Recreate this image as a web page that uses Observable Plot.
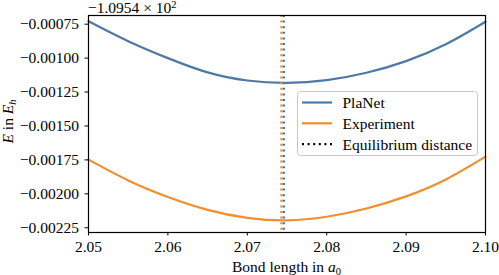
<!DOCTYPE html>
<html><head><meta charset="utf-8">
<script src="https://cdn.jsdelivr.net/npm/d3@7"></script>
<script src="https://cdn.jsdelivr.net/npm/@observablehq/plot@0.6"></script>
<style>
body{margin:0;background:#fff}
svg{display:block}
svg text{font-family:"Liberation Serif", serif !important;}
</style>
</head><body><div id="chart"></div>
<script>
// Data (energies are shown relative to the offset −1.0954 × 10² Eh)
const bondLength = [2.050, 2.055, 2.060, 2.065, 2.070, 2.075, 2.080, 2.085, 2.090, 2.095, 2.100];
const planetEnergy = [-0.000728, -0.000875, -0.001000, -0.001105, -0.001165, -0.001182, -0.001162, -0.001108, -0.001022, -0.000898, -0.000732];
const experimentEnergy = [-0.001748, -0.001901, -0.002023, -0.002118, -0.002177, -0.002196, -0.002169, -0.002108, -0.002019, -0.001894, -0.001726];
const seriesNames = ["PlaNet", "Experiment"];
const seriesColors = ["#4e79a7", "#f28e2b"];
const eqSeries = ["Experiment", "PlaNet"];
const eqDistance = [2.0743, 2.0746];
const xTicks = [2.05, 2.06, 2.07, 2.08, 2.09, 2.10];
const yTicks = [-0.00075, -0.00100, -0.00125, -0.00150, -0.00175, -0.00200, -0.00225];
const offsetMantissa = "\u22121.0954 \u00d7 10";
const offsetExponent = "2";
const legendLabels = ["PlaNet", "Experiment", "Equilibrium distance"];

const color = Object.fromEntries(seriesNames.map((s, i) => [s, seriesColors[i]]));
const curves = [];
bondLength.forEach((x, i) => {
  curves.push({series: "PlaNet", x, y: planetEnergy[i]});
  curves.push({series: "Experiment", x, y: experimentEnergy[i]});
});
const eqRows = eqSeries.map((s, i) => ({series: s, x: eqDistance[i]}));

const W = 499, H = 275, mL = 88, mR = 14, mT = 15, mB = 43;
const font = "Liberation Serif, serif";
const fs = 15.5;

const plot = Plot.plot({
  width: W, height: H,
  marginLeft: mL, marginRight: mR, marginTop: mT, marginBottom: mB,
  style: {fontFamily: font, fontSize: fs + "px", color: "black", background: "white", overflow: "visible"},
  x: {domain: [2.05, 2.10]},
  y: {domain: [-0.002285, -0.000686]},
  marks: [
    Plot.line(curves, {x: "x", y: "y", z: "series", stroke: d => color[d.series], strokeWidth: 2.2, curve: "natural"}),
    Plot.ruleX(eqRows, {x: "x", stroke: d => color[d.series], strokeWidth: 2.4, strokeDasharray: "2,3.6"}),
    Plot.frame({stroke: "black", strokeWidth: 1.2}),
    Plot.axisX({ticks: xTicks, tickFormat: d3.format(".2f"), tickSize: 3.5, tickPadding: 5, label: null, fontSize: fs}),
    Plot.axisY({ticks: yTicks, tickFormat: d3.format(".5f"), tickSize: 3.5, tickPadding: 6, label: null, fontSize: fs})
  ]
});
document.getElementById("chart").appendChild(plot);

const svg = d3.select(plot);
// offset text
const off = svg.append("text").attr("x", mL).attr("y", 12.5).attr("text-anchor", "start")
  .attr("font-size", fs).attr("fill", "black");
off.append("tspan").text(offsetMantissa);
off.append("tspan").attr("dy", -5).attr("font-size", 10.5).text(offsetExponent);

// x label
const xl = svg.append("text").attr("x", (mL + W - mR) / 2).attr("y", 272).attr("text-anchor", "middle")
  .attr("font-size", fs).attr("fill", "black");
xl.append("tspan").text("Bond length in ");
xl.append("tspan").attr("font-style", "italic").text("a");
xl.append("tspan").attr("dy", 2.5).attr("font-size", 10.5).text("0");

// y label
const yl = svg.append("text").attr("transform", `translate(13,${(mT + H - mB) / 2 - 2}) rotate(-90)`).attr("text-anchor", "middle")
  .attr("font-size", fs).attr("fill", "black");
yl.append("tspan").attr("font-style", "italic").text("E");
yl.append("tspan").text(" in ");
yl.append("tspan").attr("font-style", "italic").text("E");
yl.append("tspan").attr("dy", 3).attr("font-size", 10.5).attr("font-style", "italic").text("h");

// legend
const lg = svg.append("g").attr("transform", "translate(297.5,91.5)");
lg.append("rect").attr("x", 0).attr("y", 0).attr("width", 180).attr("height", 64).attr("rx", 3).attr("ry", 3)
  .style("fill", "white").style("fill-opacity", 0.8).style("stroke", "#c8c8c8").style("stroke-width", "1px");
const legendStrokes = [seriesColors[0], seriesColors[1], "black"];
const legendDash = [null, null, "2,3.6"];
legendLabels.forEach((label, i) => {
  const y = 11 + i * 20.8;
  lg.append("line").attr("x1", 4.5).attr("x2", 34.5).attr("y1", y).attr("y2", y)
    .attr("stroke", legendStrokes[i]).attr("stroke-width", 2.2).attr("stroke-dasharray", legendDash[i]);
  lg.append("text").attr("x", 45).attr("y", y).attr("dy", "0.35em").attr("text-anchor", "start")
    .attr("font-size", fs).attr("fill", "black").text(label);
});
</script>
</body></html>
